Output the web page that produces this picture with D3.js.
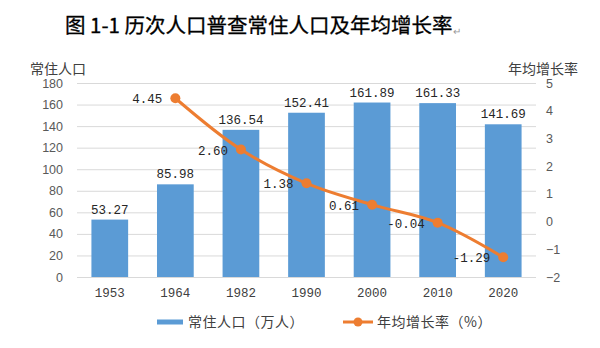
<!DOCTYPE html>
<html><head><meta charset="utf-8">
<script src="https://cdn.jsdelivr.net/npm/d3@7"></script>
<style>
html,body{margin:0;padding:0;background:#fff;}
svg{display:block;}
</style></head>
<body>
<svg id="chart" width="600" height="348"></svg>
<script>
const categories = ["1953","1964","1982","1990","2000","2010","2020"];
const population = [53.27, 85.98, 136.54, 152.41, 161.89, 161.33, 141.69];
const growthRate = [null, 4.45, 2.60, 1.38, 0.61, -0.04, -1.29];
const leftTicks = [0,20,40,60,80,100,120,140,160,180];
const rightTicks = [-2,-1,0,1,2,3,4,5];

const svg = d3.select("#chart");
const cjk = "'Noto Sans CJK SC', 'Noto Sans', sans-serif";
const mono = "'Liberation Mono', 'DejaVu Sans Mono', monospace";
const margin = {left:77, right:64, top:83, bottom:71};
const W = 600, H = 348;
const x = d3.scaleBand().domain(categories).range([margin.left, W - margin.right]).paddingInner(0.44).paddingOuter(0.22);
const yL = d3.scaleLinear().domain([0,180]).range([H - margin.bottom, margin.top]);
const yR = d3.scaleLinear().domain([-2,5]).range([H - margin.bottom, margin.top]);

// Title
const title = svg.append("text").attr("x", 65).attr("y", 33)
  .attr("font-family", cjk).attr("font-size", 20.5).attr("font-weight", 400).attr("fill", "#000")
  .attr("stroke", "#000").attr("stroke-width", 0.3)
  .text("图 1-1 历次人口普查常住人口及年均增长率");
title.append("tspan").attr("font-size", 10).attr("fill", "#999").attr("stroke", "none").attr("dy", 2).text("↵");

// Gridlines
svg.append("g").selectAll("line").data(leftTicks).join("line")
  .attr("x1", margin.left).attr("x2", W - margin.right)
  .attr("y1", d => yL(d) + 0.5).attr("y2", d => yL(d) + 0.5)
  .attr("stroke", "#d9d9d9").attr("stroke-width", 1);

// Left axis
const axL = svg.append("g").attr("transform", `translate(${margin.left - 6},0)`)
  .call(d3.axisLeft(yL).tickValues(leftTicks).tickSize(0).tickPadding(8));
axL.select(".domain").remove();
axL.selectAll("text").attr("font-family", "'Liberation Sans', Arial, sans-serif").attr("font-size", 12.5).attr("fill", "#595959");

// Right axis
const axR = svg.append("g").attr("transform", `translate(${W - margin.right + 2},0)`)
  .call(d3.axisRight(yR).tickValues(rightTicks).tickFormat(d3.format("d")).tickSize(0).tickPadding(8));
axR.select(".domain").remove();
axR.selectAll("text").attr("font-family", "'Liberation Sans', Arial, sans-serif").attr("font-size", 12.5).attr("fill", "#595959");

// Axis titles
svg.append("text").attr("x", 30).attr("y", 74).attr("font-family", cjk).attr("font-size", 14).attr("fill", "#404040").text("常住人口");
svg.append("text").attr("x", 508).attr("y", 74).attr("font-family", cjk).attr("font-size", 14).attr("fill", "#404040").text("年均增长率");

// Bars
svg.append("g").selectAll("rect").data(population).join("rect")
  .attr("x", (d,i) => x(categories[i])).attr("width", x.bandwidth())
  .attr("y", d => yL(d)).attr("height", d => yL(0) - yL(d))
  .attr("fill", "#5b9bd5");

// Bar labels
svg.append("g").selectAll("text").data(population).join("text")
  .attr("x", (d,i) => x(categories[i]) + x.bandwidth()/2).attr("y", d => yL(d) - 6)
  .attr("text-anchor", "middle").attr("font-family", mono).attr("font-size", 12.5).attr("fill", "#262626")
  .text(d => d.toFixed(2));

// X axis labels
svg.append("g").selectAll("text").data(categories).join("text")
  .attr("x", d => x(d) + x.bandwidth()/2).attr("y", 297)
  .attr("text-anchor", "middle").attr("font-family", mono).attr("font-size", 12.5).attr("fill", "#404040")
  .text(d => d);

// Line
const pts = growthRate.map((v,i) => ({c: categories[i], v})).filter(d => d.v !== null);
const line = d3.line().x(d => x(d.c) + x.bandwidth()/2).y(d => yR(d.v)).curve(d3.curveCatmullRom.alpha(0.5));
svg.append("path").datum(pts).attr("d", line).attr("fill", "none").attr("stroke", "#ed7d31").attr("stroke-width", 3);
svg.append("g").selectAll("circle").data(pts).join("circle")
  .attr("cx", d => x(d.c) + x.bandwidth()/2).attr("cy", d => yR(d.v)).attr("r", 5)
  .attr("fill", "#ed7d31");
svg.append("g").selectAll("text").data(pts).join("text")
  .attr("x", d => x(d.c) + x.bandwidth()/2 - 13).attr("y", d => yR(d.v) + 5)
  .attr("text-anchor", "end").attr("font-family", mono).attr("font-size", 12.5).attr("fill", "#262626")
  .text(d => d.v.toFixed(2));

// Legend
const lg = svg.append("g");
lg.append("rect").attr("x", 157).attr("y", 319.5).attr("width", 26).attr("height", 5).attr("fill", "#5b9bd5");
lg.append("text").attr("x", 188).attr("y", 327).attr("font-family", cjk).attr("font-size", 14).attr("fill", "#404040").attr("letter-spacing", 0.5).text("常住人口（万人）");
lg.append("line").attr("x1", 343).attr("x2", 373).attr("y1", 322).attr("y2", 322).attr("stroke", "#ed7d31").attr("stroke-width", 3);
lg.append("circle").attr("cx", 358).attr("cy", 322).attr("r", 4.5).attr("fill", "#ed7d31");
lg.append("text").attr("x", 377).attr("y", 327).attr("font-family", cjk).attr("font-size", 14).attr("fill", "#404040").attr("letter-spacing", 0.5).text("年均增长率（%）");
</script>
</body></html>
